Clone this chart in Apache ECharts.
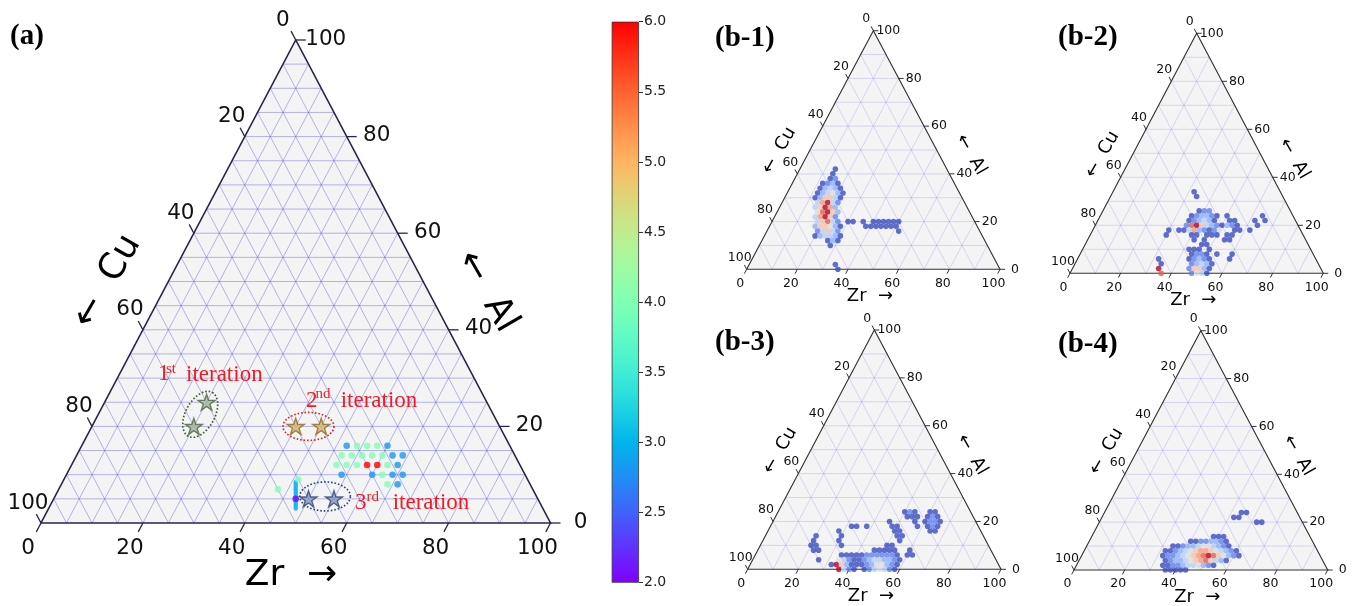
<!DOCTYPE html>
<html>
<head>
<meta charset="utf-8">
<script src="https://cdn.jsdelivr.net/npm/echarts@6/dist/echarts.min.js"></script>
<style>
html,body{margin:0;padding:0;background:#fff;}
#chart{width:1357px;height:606px;}
</style>
</head>
<body>
<div id="chart"></div>
<script>
// ================= DATA =================
const TICK_VALUES = [0, 20, 40, 60, 80, 100];
const GRID_FINE = [5, 10, 15, 20, 25, 30, 35, 40, 45, 50, 55, 60, 65, 70, 75, 80, 85, 90, 95];
const GRID_COARSE = [10, 20, 30, 40, 50, 60, 70, 80, 90];
const CBAR_TICKS = [2.0, 2.5, 3.0, 3.5, 4.0, 4.5, 5.0, 5.5, 6.0];

// panel (a): measured compositions [Zr, Al, value]
const aDots = [
  [52,16,2.8],[54,16,4.0],[56,16,4.0],[58,16,4.0],[60,16,2.8],
  [52,14,4.0],[54,14,4.0],[56,14,4.0],[58,14,4.0],[60,14,4.0],[62,14,2.8],[64,14,2.8],
  [52,12,4.0],[54,12,4.0],[56,12,4.0],[58,12,6.0],[60,12,6.0],[62,12,4.0],[64,12,2.8],
  [54,10,2.8],[60,10,2.8],[62,10,4.0],[64,10,2.8],[66,10,2.8],
  [64,8,4.0],[66,8,2.8],
  [46,9,4.0],[43,7,4.0],
  [47.5,5,2.0]
];
// (Cu50Zr50)-Al line [Zr, Al, value]
const aLine = [
  [48.5,3,3.0],[48.25,3.5,3.0],[48,4,3.0],[47.75,4.5,3.0],[47.5,5,3.0],[47.25,5.5,3.0],
  [47,6,3.0],[46.75,6.5,3.0],[46.5,7,3.0],[46.25,7.5,3.0],[46,8,3.0],[45.75,8.5,3.0]
];
// suggested compositions per iteration [Zr, Al]
const stars1 = [[20,25],[20,20]];
const stars2 = [[40,20],[45,20]];
const stars3 = [[50,5],[55,5]];
const ellipseCenters = [[20,22.5],[42.5,20],[53,5.5]];

// hexbin density rows: [Al, first Zr, density level of each cell (one cell per 2 at.% Zr), '.' = empty]
const b1Rows = [
  [42,14,"1"],[40,14,"1"],[38,14,"12"],[36,12,"1231"],[34,12,"13431"],[32,12,"134531"],
  [30,12,"136641"],[28,14,"47942"],[26,14,"46973"],[24,16,"58963"],[22,16,"47962"],
  [20,18,"46842.11.1.111111"],[18,18,"366531....1111111"],[16,20,"24642...........1"],
  [14,20,"134431"],[12,26,"131"],[10,28,"1"],[2,34,"1"],[0,36,"1"]
];
const b2Rows = [
  [34,32,"1"],[32,34,"1"],[26,38,"122"],[24,36,"123321.1......1"],[22,36,"123431..11...1.1"],
  [20,36,"28964321321...1"],[18,30,"1.114732125..11.1"],[16,30,"1....11.111.11"],
  [14,42,"1.1...11"],[12,46,"11"],[10,42,"111.1"],[8,44,"1221.1..1"],
  [6,32,"1.....12321...1"],[4,34,"1.....23431"],[2,34,"9.....26631"],[0,36,"8.....2541"]
];
const b3Rows = [
  [24,50,"121..11"],[22,52,"111.121"],[20,46,"1....1.1221"],[18,32,"11.1....11...1.121"],
  [16,28,"1..........11.....11"],[14,20,"1....1..........11"],[12,20,"1....1...........1"],
  [10,20,"11....1........11"],[8,22,"11..........11111..1"],[6,34,"111112222221.11"],
  [4,26,"1...5421123443321"],[2,32,"19631112355321"],[0,36,"9421.1245421"]
];
const b4Rows = [
  [24,54,"11"],[22,52,"11"],[20,62,"11"],[14,48,"111"],[12,40,"11223321"],
  [10,34,"112334554321"],[8,32,"112345677654321"],[6,32,"1223456789865321"],
  [4,34,"1233456786431"],[2,34,"11223445321"],[0,36,"11111"]
];
const HEX_STEP = 2;

// ================= LAYOUT / STYLE =================
const FONT = '"DejaVu Sans", sans-serif';
const SERIF = '"Liberation Serif", "Times New Roman", serif';
const COOLWARM = ['#3b4cc0','#6282ea','#8db0fe','#b8d0f9','#dddddd','#f5c4ad','#f49a7b','#de604d','#b40426'];
function rainbow(x){
  const r = Math.abs(2*x-0.5), g = Math.sin(Math.PI*x), b = Math.cos(Math.PI*x/2);
  return 'rgb(' + [r,g,b].map(c => Math.round(Math.max(0,Math.min(1,c))*255)).join(',') + ')';
}
const RAINBOW = Array.from({length:17}, (_, i) => rainbow(i/16));

const bStyle = {grid:GRID_COARSE, tickFs:12.5, titleFs:18, tickLen:5, tickW:1, offB:[-6.5,14], offR:[15,0], offL:[-7,-11.5],
  tCu:[32.3,-118.7], tAl:[224.3,-114.6], tZr:[123.3,27.4], border:'#333333', borderW:1.1, gridColor:'rgba(100,100,235,0.28)', gridW:0.8};
const PANELS = [
  {left:41, top:40, w:509.5, h:483, grid:GRID_FINE, tickFs:21.5, titleFs:36, tickLen:10, tickW:1.3, offB:[-13,25], offR:[30,-1], offL:[-13,-20],
   tCu:[66.2,-241.4], tAl:[446,-231.5], tZr:[250,53], border:'#26264a', borderW:1.6, gridColor:'rgba(80,80,215,0.45)', gridW:0.9},
  Object.assign({left:746.7, top:30.7, w:253.3, h:238.6}, bStyle),
  Object.assign({left:1070, top:33.3, w:253.3, h:240}, bStyle),
  Object.assign({left:747.7, top:330, w:253.3, h:239.3}, bStyle),
  Object.assign({left:1074, top:330.7, w:253.7, h:239.3}, bStyle)
];
const PANEL_LABELS = [
  {text:'(a)', x:10, y:37}, {text:'(b-1)', x:715, y:38.5}, {text:'(b-2)', x:1058, y:37.5},
  {text:'(b-3)', x:715, y:343}, {text:'(b-4)', x:1058, y:345}
];
const ELLIPSES = [
  {rx:25, ry:14.5, angle:-61.3, color:'#3f5c2f'},
  {rx:25.5, ry:14, angle:0, color:'#d42a2a'},
  {rx:25.3, ry:14.5, angle:0, color:'#2b4a78'}
];
const STAR = 'path://M50 0 L61.23 34.55 L97.55 34.55 L68.17 55.9 L79.39 90.45 L50 69.1 L20.61 90.45 L31.83 55.9 L2.45 34.55 L38.77 34.55 Z';

// ================= HELPERS =================
const tern = (zr, al) => [zr + al/2, al];   // ternary (Zr, Al) -> cartesian data coords
function unit(dx, dy){ const l = Math.hypot(dx, dy); return [dx/l, dy/l]; }
function tstyle(text, font, align, vAlign, fill){
  return {text:text, font:font, fill:fill || '#111', textAlign:align, textVerticalAlign:vAlign, align:align, verticalAlign:vAlign};
}
function gridSegments(vals){
  const segs = [];
  vals.forEach(v => {
    segs.push(tern(0, v).concat(tern(100 - v, v)));        // const Al
    segs.push(tern(v, 0).concat(tern(v, 100 - v)));        // const Zr
    segs.push(tern(100 - v, 0).concat(tern(0, 100 - v)));  // const Cu
  });
  return segs;
}
function hexCells(rows){
  const out = [];
  rows.forEach(([al, zr0, lv]) => {
    for (let k = 0; k < lv.length; k++) {
      if (lv[k] === '.') continue;
      out.push(tern(zr0 + HEX_STEP*k, al).concat([Number(lv[k])]));
    }
  });
  return out;
}

// ================= OPTION =================
const option = {animation:false, backgroundColor:'#ffffff', grid:[], xAxis:[], yAxis:[], series:[], visualMap:[], graphic:{elements:[]}};
const bHexIdx = [];
let aLineIdx, aDotIdx;

PANELS.forEach((P, i) => {
  option.grid.push({left:P.left, top:P.top, width:P.w, height:P.h, outerBoundsMode:'none'});
  option.xAxis.push({gridIndex:i, type:'value', min:0, max:100, show:false});
  option.yAxis.push({gridIndex:i, type:'value', min:0, max:100, show:false});
  const base = {type:'custom', coordinateSystem:'cartesian2d', xAxisIndex:i, yAxisIndex:i, silent:true, clip:false};
  const verts = api => [api.coord([0,0]), api.coord([100,0]), api.coord([50,100])];
  option.series.push(Object.assign({}, base, {z:1, data:[[0,0]], renderItem:(p, api) => ({
    type:'polygon', shape:{points:verts(api)}, style:{fill:'#f4f4f4'}})}));
  option.series.push(Object.assign({}, base, {z:2, data:gridSegments(P.grid), renderItem:(p, api) => {
    const a = api.coord([api.value(0), api.value(1)]), b = api.coord([api.value(2), api.value(3)]);
    return {type:'line', shape:{x1:a[0], y1:a[1], x2:b[0], y2:b[1]}, style:{stroke:P.gridColor, lineWidth:P.gridW}};
  }}));
  option.series.push(Object.assign({}, base, {z:3, data:[[0,0]], renderItem:(p, api) => ({
    type:'polygon', shape:{points:verts(api)}, style:{fill:'none', stroke:P.border, lineWidth:P.borderW}})}));
  const tickData = [];
  TICK_VALUES.forEach(v => { tickData.push([0, v]); tickData.push([1, v]); tickData.push([2, v]); });
  option.series.push(Object.assign({}, base, {z:3, data:tickData, renderItem:(p, api) => {
    const ax = api.value(0), v = api.value(1);
    const [A, B, C] = verts(api);
    let pt, d, off;
    if (ax === 0) { pt = api.coord(tern(v, 0)); d = unit(A[0]-C[0], A[1]-C[1]); off = P.offB; }
    else if (ax === 1) { pt = api.coord(tern(100 - v, v)); d = [1, 0]; off = P.offR; }
    else { pt = api.coord(tern(0, 100 - v)); d = unit(C[0]-B[0], C[1]-B[1]); off = P.offL; }
    return {type:'group', children:[
      {type:'line', shape:{x1:pt[0], y1:pt[1], x2:pt[0] + d[0]*P.tickLen, y2:pt[1] + d[1]*P.tickLen},
       style:{stroke:P.border, lineWidth:P.tickW}},
      {type:'text', x:pt[0] + off[0], y:pt[1] + off[1],
       style:tstyle(String(v), P.tickFs + 'px ' + FONT, 'center', 'middle', '#111')}
    ]};
  }}));
  const BLx = P.left, BLy = P.top + P.h;
  const tf = P.titleFs + 'px ' + FONT;
  option.graphic.elements.push(
    {type:'text', x:BLx + P.tCu[0], y:BLy + P.tCu[1], rotation:Math.PI/3, silent:true, style:tstyle('\u2190  Cu', tf, 'center', 'middle', '#000')},
    {type:'text', x:BLx + P.tAl[0], y:BLy + P.tAl[1], rotation:-Math.PI/3, silent:true, style:tstyle('\u2190  Al', tf, 'center', 'middle', '#000')},
    {type:'text', x:BLx + P.tZr[0], y:BLy + P.tZr[1], silent:true, style:tstyle('Zr  \u2192', tf, 'center', 'middle', '#000')}
  );

  if (i === 0) {
    aLineIdx = option.series.length;
    option.series.push({type:'scatter', xAxisIndex:0, yAxisIndex:0, z:5, silent:true, symbol:'circle', symbolSize:4.6,
      data:aLine.map(d => tern(d[0], d[1]).concat([d[2]]))});
    aDotIdx = option.series.length;
    option.series.push({type:'scatter', xAxisIndex:0, yAxisIndex:0, z:6, silent:true, symbol:'circle', symbolSize:6.6,
      data:aDots.map(d => tern(d[0], d[1]).concat([d[2]]))});
    option.series.push(Object.assign({}, base, {z:7, data:ellipseCenters.map(c => tern(c[0], c[1])), renderItem:(p, api) => {
      const c = api.coord([api.value(0), api.value(1)]);
      const E = ELLIPSES[p.dataIndex], t = E.angle*Math.PI/180, pts = [];
      for (let k = 0; k <= 72; k++) {
        const a = k/72*2*Math.PI, ex = E.rx*Math.cos(a), ey = E.ry*Math.sin(a);
        pts.push([c[0] + ex*Math.cos(t) - ey*Math.sin(t), c[1] + ex*Math.sin(t) + ey*Math.cos(t)]);
      }
      return {type:'polyline', shape:{points:pts}, style:{stroke:E.color, lineWidth:1.7, lineDash:[1.6,1.9], fill:null}};
    }}));
    [[stars1,'#a9b5a6','#4d673c'],[stars2,'#d9b873','#8f6c1f'],[stars3,'#8797c0','#33466f']].forEach(([s, fc, bc]) => {
      option.series.push({type:'scatter', xAxisIndex:0, yAxisIndex:0, z:8, silent:true, symbol:STAR, symbolSize:[17,16],
        data:s.map(d => tern(d[0], d[1])), itemStyle:{color:fc, borderColor:bc, borderWidth:1.4}});
    });
  } else {
    const rows = [b1Rows, b2Rows, b3Rows, b4Rows][i - 1];
    bHexIdx.push(option.series.length);
    option.series.push({type:'scatter', xAxisIndex:i, yAxisIndex:i, z:5, silent:true, symbol:'circle', symbolSize:5.6,
      data:hexCells(rows)});
  }
});

// colour bar
const CB = PANELS.length;
option.grid.push({left:611.7, top:21.7, width:27.3, height:561, outerBoundsMode:'none'});
option.xAxis.push({gridIndex:CB, type:'category', data:['cb'], show:false});
option.yAxis.push({gridIndex:CB, type:'value', position:'right', min:CBAR_TICKS[0], max:CBAR_TICKS[CBAR_TICKS.length-1],
  interval:CBAR_TICKS[1]-CBAR_TICKS[0], splitLine:{show:false}, axisLine:{show:false},
  axisTick:{show:true, length:4, lineStyle:{color:'#333', width:1}},
  axisLabel:{formatter:v => v.toFixed(1), fontSize:14, fontFamily:FONT, color:'#222', margin:5}});
const cbStops = [];
for (let k = 0; k <= 32; k++) cbStops.push({offset:k/32, color:rainbow(1 - k/32)});
option.series.push(
  {type:'bar', xAxisIndex:CB, yAxisIndex:CB, stack:'cb', barWidth:'100%', silent:true, data:[CBAR_TICKS[0]], itemStyle:{color:'rgba(0,0,0,0)'}},
  {type:'bar', xAxisIndex:CB, yAxisIndex:CB, stack:'cb', barWidth:'100%', silent:true,
   data:[CBAR_TICKS[CBAR_TICKS.length-1] - CBAR_TICKS[0]],
   itemStyle:{color:{type:'linear', x:0, y:0, x2:0, y2:1, colorStops:cbStops}, borderColor:'#333', borderWidth:0.8}}
);

option.visualMap.push(
  {type:'continuous', show:false, min:CBAR_TICKS[0], max:CBAR_TICKS[CBAR_TICKS.length-1], dimension:2, seriesIndex:[aLineIdx, aDotIdx], inRange:{color:RAINBOW}},
  {type:'continuous', show:false, min:1, max:9, dimension:2, seriesIndex:bHexIdx, inRange:{color:COOLWARM}}
);

PANEL_LABELS.forEach(L => option.graphic.elements.push(
  {type:'text', x:L.x, y:L.y, silent:true, style:tstyle(L.text, 'bold 29px ' + SERIF, 'left', 'middle', '#000')}));

const RED = '#ee1c24';
[
  ['1', 158, 374, 23], ['st', 166, 369, 15], ['iteration', 186, 375, 23],
  ['2', 306, 401, 23], ['nd', 315.5, 394, 15], ['iteration', 340.7, 401, 23],
  ['3', 355, 503, 23], ['rd', 366.5, 497, 15], ['iteration', 392.7, 503, 23]
].forEach(([t, x, y, fs]) => option.graphic.elements.push(
  {type:'text', x:x, y:y, silent:true, z:100, style:tstyle(t, fs + 'px ' + SERIF, 'left', 'middle', RED)}));

const chart = echarts.init(document.getElementById('chart'), null, {renderer:'canvas'});
chart.setOption(option);
</script>
</body>
</html>
